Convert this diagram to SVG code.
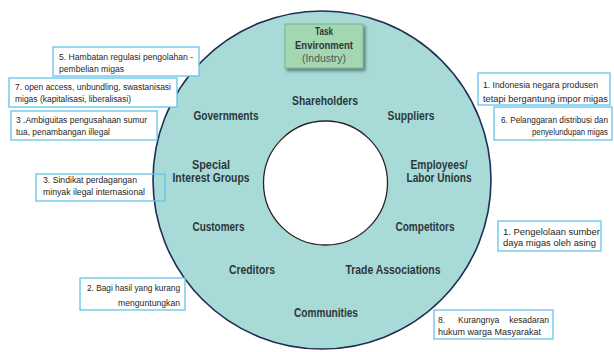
<svg xmlns="http://www.w3.org/2000/svg" width="614" height="352" viewBox="0 0 614 352">
<defs>
<style>
.lbl{font-family:"Liberation Sans",Arial,sans-serif;font-weight:bold;font-size:12px;fill:#2c3639;text-anchor:middle}
.note{font-family:"Liberation Sans",Arial,sans-serif;font-size:8.5px;fill:#262626}
.box{fill:none;stroke:#62c3ec;stroke-width:1.3}
.wbox{fill:#ffffff;stroke:#62c3ec;stroke-width:1.3}
</style>
<filter id="sh" x="-20%" y="-20%" width="150%" height="160%">
<feDropShadow dx="2" dy="2.5" stdDeviation="1.8" flood-color="#1d3a30" flood-opacity="0.6"/>
</filter>
</defs>
<rect width="614" height="352" fill="#ffffff"/>

<g id="outer-ring">
<circle cx="322" cy="180" r="169" fill="#a8dbd8" stroke="#1f2d52" stroke-width="1.6"/>
<circle cx="325.5" cy="183" r="62" fill="#ffffff" stroke="#2a2222" stroke-width="1.3"/>
</g>

<g id="task-environment">
<rect x="285" y="24" width="78" height="44" fill="#a3d7b1" stroke="#7fb08f" stroke-width="1" filter="url(#sh)"/>
<text x="324" y="35" class="lbl" style="font-size:11px" textLength="18" lengthAdjust="spacingAndGlyphs">Task</text>
<text x="324" y="49" class="lbl" style="font-size:11px" textLength="58" lengthAdjust="spacingAndGlyphs">Environment</text>
<text x="324" y="62" class="lbl" style="font-size:11px;font-weight:normal;fill:#505858" textLength="44" lengthAdjust="spacingAndGlyphs">(Industry)</text>
</g>

<g id="shareholders"><text x="325" y="105" class="lbl" textLength="66" lengthAdjust="spacingAndGlyphs">Shareholders</text></g>
<g id="governments"><text x="226" y="120" class="lbl" textLength="65" lengthAdjust="spacingAndGlyphs">Governments</text></g>
<g id="suppliers"><text x="411" y="120" class="lbl" textLength="47" lengthAdjust="spacingAndGlyphs">Suppliers</text></g>
<g id="special-interest-groups">
<text x="211" y="169" class="lbl" textLength="38" lengthAdjust="spacingAndGlyphs">Special</text>
<text x="211" y="182" class="lbl" textLength="77" lengthAdjust="spacingAndGlyphs">Interest Groups</text>
</g>
<g id="employees-labor-unions">
<text x="439" y="169" class="lbl" textLength="57" lengthAdjust="spacingAndGlyphs">Employees/</text>
<text x="439" y="182" class="lbl" textLength="65" lengthAdjust="spacingAndGlyphs">Labor Unions</text>
</g>
<g id="customers"><text x="218.5" y="231" class="lbl" textLength="52" lengthAdjust="spacingAndGlyphs">Customers</text></g>
<g id="competitors"><text x="425" y="231" class="lbl" textLength="59" lengthAdjust="spacingAndGlyphs">Competitors</text></g>
<g id="creditors"><text x="252" y="274" class="lbl" textLength="46" lengthAdjust="spacingAndGlyphs">Creditors</text></g>
<g id="trade-associations"><text x="393" y="274" class="lbl" textLength="95" lengthAdjust="spacingAndGlyphs">Trade Associations</text></g>
<g id="communities"><text x="326" y="317" class="lbl" textLength="64" lengthAdjust="spacingAndGlyphs">Communities</text></g>

<g id="note-5">
<rect x="53" y="47" width="146" height="29" class="wbox"/>
<text x="59" y="60" class="note" textLength="134" lengthAdjust="spacingAndGlyphs">5. Hambatan regulasi pengolahan -</text>
<text x="59" y="72" class="note" textLength="65" lengthAdjust="spacingAndGlyphs">pembelian migas</text>
</g>
<g id="note-7">
<rect x="9" y="78" width="168" height="29" class="wbox"/>
<text x="15" y="90" class="note" textLength="156" lengthAdjust="spacingAndGlyphs">7. open access, unbundling, swastanisasi</text>
<text x="15" y="102" class="note" textLength="116" lengthAdjust="spacingAndGlyphs">migas (kapitalisasi, liberalisasi)</text>
</g>
<g id="note-3a">
<rect x="11" y="111" width="146" height="29" class="wbox"/>
<text x="16" y="123" class="note" textLength="131" lengthAdjust="spacingAndGlyphs">3 .Ambiguitas pengusahaan sumur</text>
<text x="16" y="135" class="note" textLength="94" lengthAdjust="spacingAndGlyphs">tua, penambangan illegal</text>
</g>
<g id="note-3b">
<rect x="36" y="174" width="129" height="27" class="box"/>
<text x="43" y="183" class="note" textLength="94" lengthAdjust="spacingAndGlyphs">3. Sindikat perdagangan</text>
<text x="43" y="195" class="note" textLength="102" lengthAdjust="spacingAndGlyphs">minyak ilegal internasional</text>
</g>
<g id="note-2">
<rect x="80" y="278" width="105" height="32" class="wbox"/>
<text x="180" y="291" class="note" text-anchor="end" textLength="93" lengthAdjust="spacingAndGlyphs">2. Bagi hasil yang kurang</text>
<text x="180" y="306" class="note" text-anchor="end" textLength="62" lengthAdjust="spacingAndGlyphs">menguntungkan</text>
</g>
<g id="note-1a">
<rect x="478" y="73" width="132" height="32" class="wbox"/>
<text x="483" y="88" class="note" textLength="115" lengthAdjust="spacingAndGlyphs">1. Indonesia negara produsen</text>
<text x="483" y="102" class="note" textLength="125" lengthAdjust="spacingAndGlyphs">tetapi bergantung impor migas</text>
</g>
<g id="note-6">
<rect x="494" y="107" width="118" height="33" class="wbox"/>
<text x="608" y="123" class="note" text-anchor="end" textLength="107" lengthAdjust="spacingAndGlyphs">6. Pelanggaran distribusi dan</text>
<text x="608" y="135" class="note" text-anchor="end" textLength="76" lengthAdjust="spacingAndGlyphs">penyelundupan migas</text>
</g>
<g id="note-1b">
<rect x="498" y="221" width="103" height="30" class="wbox"/>
<text x="503" y="235" class="note" textLength="97" lengthAdjust="spacingAndGlyphs">1. Pengelolaan sumber</text>
<text x="503" y="246" class="note" textLength="93" lengthAdjust="spacingAndGlyphs">daya migas oleh asing</text>
</g>
<g id="note-8">
<rect x="434" y="310" width="119" height="29" class="wbox"/>
<text x="438" y="323" class="note">8.</text>
<text x="458" y="323" class="note">Kurangnya</text>
<text x="549" y="323" class="note" text-anchor="end">kesadaran</text>
<text x="438" y="335" class="note" textLength="103" lengthAdjust="spacingAndGlyphs">hukum warga Masyarakat</text>
</g>
</svg>
